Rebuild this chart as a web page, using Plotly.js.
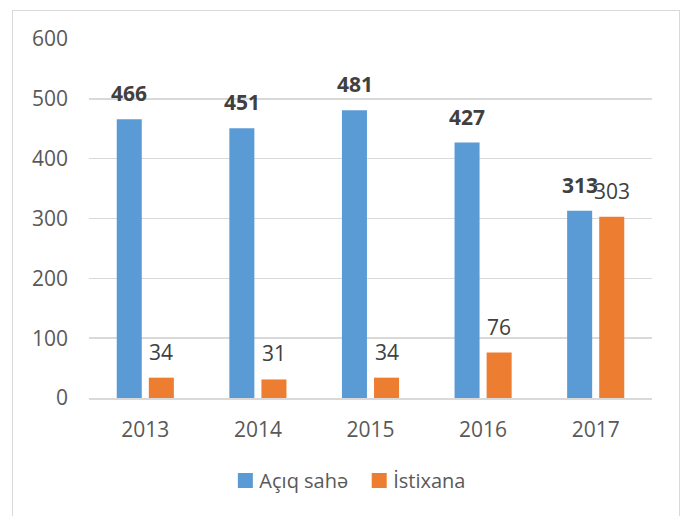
<!DOCTYPE html>
<html>
<head>
<meta charset="utf-8">
<script src="https://cdn.plot.ly/plotly-3.0.1.min.js"></script>
<style>
html,body{margin:0;padding:0;background:#fff;}
#wrap{position:relative;width:688px;height:516px;}
#chart{width:688px;height:516px;}
#frame{position:absolute;left:12px;top:10px;width:668px;height:520px;border:1.5px solid #d9d9d9;pointer-events:none;box-sizing:border-box;}
</style>
</head>
<body>
<div id="wrap"><div id="chart"></div><div id="frame"></div></div>
<script>
const years = ['2013','2014','2015','2016','2017'];
const openField = [466, 451, 481, 427, 313];
const greenhouse = [34, 31, 34, 76, 303];
const seriesNames = ['Açıq sahə', 'İstixana'];
const yTicks = [0, 100, 200, 300, 400, 500, 600];

const FONT = 'Open Sans, Noto Sans, sans-serif';
const blue = '#5B9BD5', orange = '#ED7D31';

const traces = [
  {type:'bar', name:seriesNames[0], x:years, y:openField, marker:{color:blue}, hoverinfo:'none'},
  {type:'bar', name:seriesNames[1], x:years, y:greenhouse, marker:{color:orange}, hoverinfo:'none'}
];

const annotations = [];
years.forEach((yr, i) => {
  annotations.push({x:i, y:openField[i], xref:'x', yref:'y', text:'<b>'+openField[i]+'</b>',
    showarrow:false, yanchor:'bottom', yshift:10, xshift:-16,
    font:{family:FONT, size:21, color:'#404040'}});
  annotations.push({x:i, y:greenhouse[i], xref:'x', yref:'y', text:String(greenhouse[i]),
    showarrow:false, yanchor:'bottom', yshift:10, xshift:16,
    font:{family:FONT, size:21, color:'#404040'}});
});

const layout = {
  width:688, height:516,
  margin:{l:89, r:36, t:39, b:118},
  paper_bgcolor:'#fff', plot_bgcolor:'#fff',
  barmode:'group', bargap:0.43, bargroupgap:0.22,
  font:{family:FONT, size:21, color:'#595959'},
  xaxis:{type:'category', range:[-0.5, years.length - 0.5], autorange:false, showgrid:false, showline:true, linecolor:'#d9d9d9', linewidth:2,
    ticks:'', ticklabelstandoff:12, tickfont:{family:FONT, size:21, color:'#595959'}, fixedrange:true},
  yaxis:{range:[0,600], autorange:false, tickvals:yTicks, ticktext:yTicks.map(String), showgrid:true, gridcolor:'#d9d9d9', gridwidth:1.5,
    zeroline:false, showline:false, ticks:'', ticklabelstandoff:20,
    tickfont:{family:FONT, size:21, color:'#595959'}, fixedrange:true},
  showlegend:true,
  legend:{orientation:'h', x:0.466, xanchor:'center', y:-0.23, yanchor:'middle',
    font:{family:FONT, size:20, color:'#595959'}, traceorder:'normal'},
  annotations:annotations
};

Plotly.newPlot('chart', traces, layout, {displayModeBar:false, staticPlot:true}).then(gd => {
  // enlarge legend swatches and pull legend text closer, as in the original
  gd.querySelectorAll('.legend .legendpoints path').forEach(p => {
    p.setAttribute('transform', (p.getAttribute('transform') || '') + ' scale(1.25)');
  });
  gd.querySelectorAll('.legend .legendtext').forEach(t => {
    const x = parseFloat(t.getAttribute('x') || '0');
    t.setAttribute('x', x - 6);
  });
});
</script>
</body>
</html>
